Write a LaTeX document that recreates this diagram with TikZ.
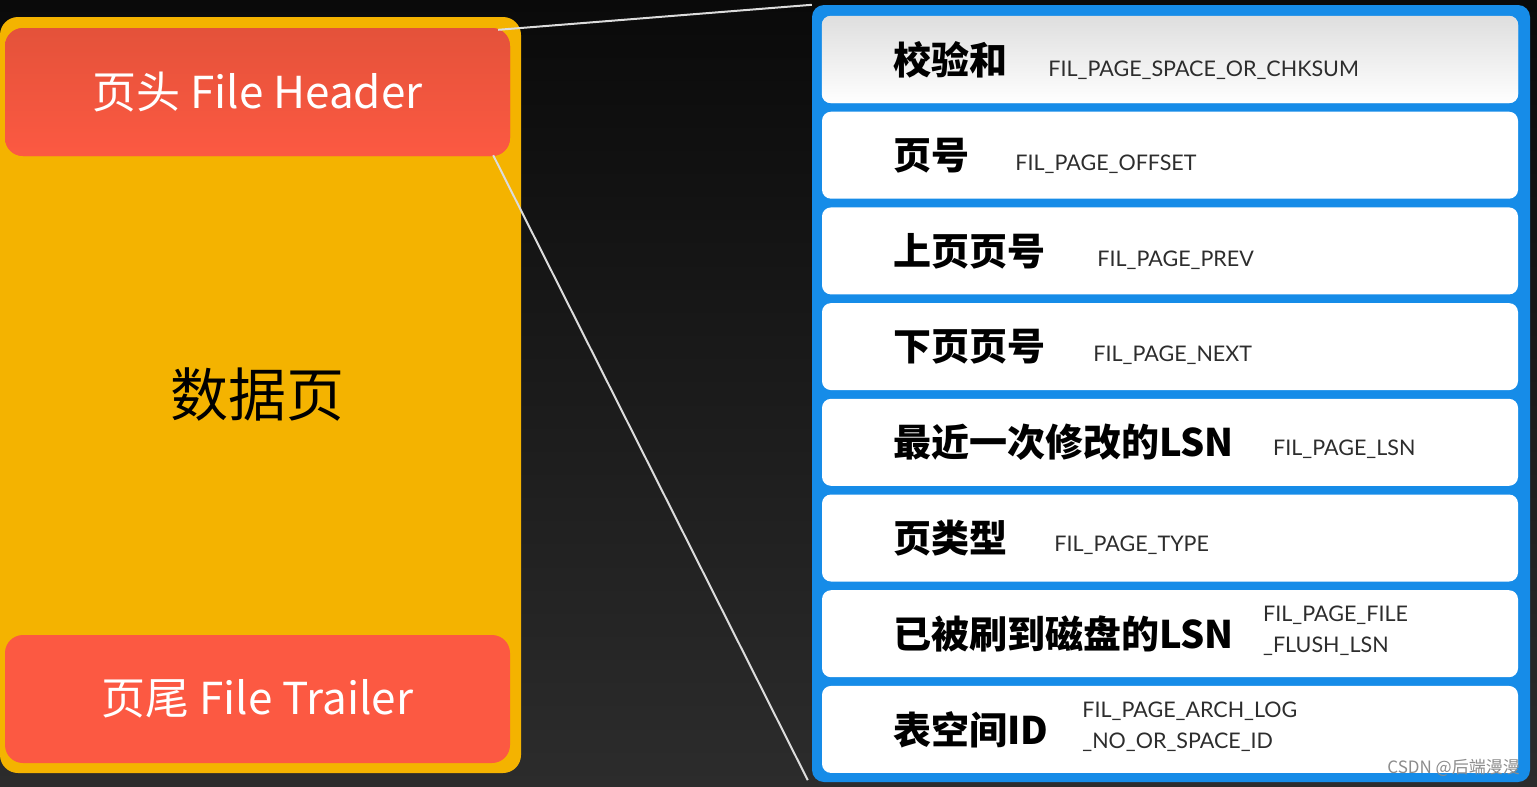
\documentclass[tikz,border=0pt]{standalone}
\usepackage{fontspec}
\setmainfont{Noto Sans CJK SC}
\newfontfamily\codefont{Lato}
\usetikzlibrary{positioning,calc}

\definecolor{bgtop}{RGB}{10,10,10}
\definecolor{bgbottom}{RGB}{44,44,44}
\definecolor{pageorange}{RGB}{244,179,0}
\definecolor{partred}{RGB}{252,89,66}
\definecolor{partredtop}{RGB}{228,82,58}
\definecolor{panelblue}{RGB}{22,140,232}
\definecolor{rowgray}{RGB}{222,222,222}
\definecolor{codegray}{RGB}{45,45,45}
\definecolor{linkgray}{RGB}{220,220,220}

\tikzset{
  pagebox/.style={rectangle,rounded corners=18pt,fill=pageorange,minimum width=521pt,minimum height=756pt,inner sep=0pt},
  partbox/.style={rectangle,rounded corners=18pt,fill=partred,minimum width=505pt,minimum height=128pt,inner sep=0pt,text=white,font=\fontsize{44}{50}\selectfont},
  panelbox/.style={rectangle,rounded corners=12pt,fill=panelblue,minimum width=718pt,minimum height=777pt,inner sep=0pt},
  rowbox/.style={rectangle,rounded corners=9pt,fill=white,minimum width=696pt,minimum height=87pt,inner sep=0pt},
  rowlabel/.style={inner sep=0pt,font=\bfseries\fontsize{38}{44}\selectfont},
  codetxt/.style={inner sep=0pt,align=left,text=codegray,font=\codefont\fontsize{21.5}{31}\selectfont},
  link/.style={draw=linkgray,line width=2pt}
}

\begin{document}
\begin{tikzpicture}[x=1pt,y=-1pt]
\useasboundingbox (0,0) rectangle (1537,787);
\shade[top color=bgtop,bottom color=bgbottom] (0,0) rectangle (1537,787);

\node[pagebox] (page) at (260.5,395) {};
\node[partbox,top color=partredtop,bottom color=partred] (header) at (257.5,92) {页头 File Header};
\node[partbox] (trailer) at (257.5,699) {页尾 File Trailer};
\node[font=\fontsize{58}{64}\selectfont,inner sep=0pt] (pagename) at (257.5,395) {数据页};

\node[panelbox] (panel) at (1171,393.5) {};
\foreach \lab/\code/\gap/\dy [count=\i] in {
    校验和/FIL\_PAGE\_SPACE\_OR\_CHKSUM/41/-11,
    页号/FIL\_PAGE\_OFFSET/46/-9,
    上页页号/FIL\_PAGE\_PREV/52/-9,
    下页页号/FIL\_PAGE\_NEXT/48/-9,
    最近一次修改的LSN/FIL\_PAGE\_LSN/39/-7,
    页类型/FIL\_PAGE\_TYPE/47/-7,
    已被刷到磁盘的LSN/FIL\_PAGE\_FILE\\\_FLUSH\_LSN/29/3,
    表空间ID/FIL\_PAGE\_ARCH\_LOG\\\_NO\_OR\_SPACE\_ID/34/3}
{
  \node[rowbox] (row\i) at (1170,{59.5+95.7*(\i-1)}) {};
  \node[rowlabel,right=71pt of row\i.west] (lab\i) {\lab};
  \node[codetxt,right=\gap pt of lab\i.east,yshift=\dy pt] (code\i) {\code};
}
\shade[top color=rowgray,bottom color=white,rounded corners=9pt] (row1.north west) rectangle (row1.south east);
\node[rowlabel,right=71pt of row1.west] {校验和};
\node[codetxt,right=41pt of lab1.east,yshift=-11pt] {FIL\_PAGE\_SPACE\_OR\_CHKSUM};

\draw[link] ($(header.north east)+(-12,2)$) -- (panel.north west);
\draw[link] ($(header.south east)+(-17,-1)$) -- ($(panel.south west)+(-4,-2)$);

\node[font=\fontsize{17}{20}\selectfont,text=black!45,inner sep=0pt,anchor=east] (mark) at (1520,768) {CSDN @后端漫漫};
\end{tikzpicture}
\end{document}
